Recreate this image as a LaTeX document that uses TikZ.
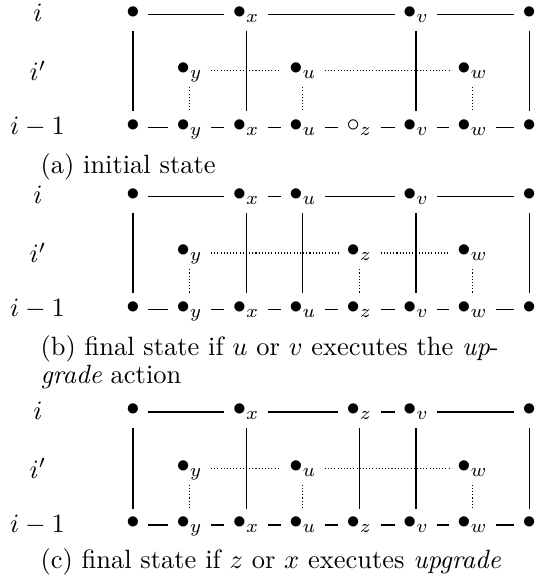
\documentclass[tikz,border=0pt]{standalone}
\begin{document}
\begin{tikzpicture}[x=0.378pt,y=-0.378pt,
  vtx/.style={inner xsep=3pt,inner ysep=0pt,text height=3pt,text depth=0pt},
  lab/.style={anchor=base,inner sep=0pt},
  captxt/.style={anchor=base west,inner sep=0pt},
  vl/.style={shorten <=4.45pt,shorten >=4.45pt},
  dt/.style={dash pattern=on 0.4pt off 0.8pt}]
\useasboundingbox (0,0) rectangle (536,583);
% ---------- panel (a) ----------
\node[lab] (aLi)  at (38,21.8)    {$i$};
\node[lab] (aLip) at (38,80.9)    {$i'$};
\node[lab] (aLim) at (37.5,134.5) {$i-1$};
\node[vtx] (aT0) at (133,14.3)   {$\bullet$};
\node[vtx] (aT2) at (246.2,14.3) {$\bullet_x$};
\node[vtx] (aT5) at (416,14.3)   {$\bullet_v$};
\node[vtx] (aT7) at (529.2,14.3) {$\bullet$};
\node[vtx] (aM1) at (189.6,70.9) {$\bullet_y$};
\node[vtx] (aM3) at (302.8,70.9) {$\bullet_u$};
\node[vtx] (aM6) at (472.6,70.9) {$\bullet_w$};
\node[vtx] (aB0) at (133,127.5)   {$\bullet$};
\node[vtx] (aB1) at (189.6,127.5) {$\bullet_y$};
\node[vtx] (aB2) at (246.2,127.5) {$\bullet_x$};
\node[vtx] (aB3) at (302.8,127.5) {$\bullet_u$};
\node[vtx] (aB4) at (359.4,127.5) {$\circ_z$};
\node[vtx] (aB5) at (416,127.5)   {$\bullet_v$};
\node[vtx] (aB6) at (472.6,127.5) {$\bullet_w$};
\node[vtx] (aB7) at (529.2,127.5) {$\bullet$};
\draw (aT0)--(aT2) (aT2)--(aT5) (aT5)--(aT7);
\draw (aB0)--(aB1) (aB1)--(aB2) (aB2)--(aB3) (aB3)--(aB4) (aB4)--(aB5) (aB5)--(aB6) (aB6)--(aB7);
\draw[vl] (aT0)--(aB0);
\draw[vl] (aT2)--(aB2);
\draw[vl] (aT5)--(aB5);
\draw[vl] (aT7)--(aB7);
\draw[dt] (aM1)--(aM3) (aM3)--(aM6);
\draw[dt,vl] (aM1)--(aB1);
\draw[dt,vl] (aM3)--(aB3);
\draw[dt,vl] (aM6)--(aB6);
\node[captxt] (capa) at (40,173.3) {(a) initial state};
% ---------- panel (b) ----------
\node[lab] (bLi)  at (38,204)     {$i$};
\node[lab] (bLip) at (38,263)     {$i'$};
\node[lab] (bLim) at (37.5,316.5) {$i-1$};
\node[vtx] (bT0) at (133,196.5)   {$\bullet$};
\node[vtx] (bT2) at (246.2,196.5) {$\bullet_x$};
\node[vtx] (bT3) at (302.8,196.5) {$\bullet_u$};
\node[vtx] (bT5) at (416,196.5)   {$\bullet_v$};
\node[vtx] (bT7) at (529.2,196.5) {$\bullet$};
\node[vtx] (bM1) at (189.6,253) {$\bullet_y$};
\node[vtx] (bM4) at (359.4,253) {$\bullet_z$};
\node[vtx] (bM6) at (472.6,253) {$\bullet_w$};
\node[vtx] (bB0) at (133,309.5)   {$\bullet$};
\node[vtx] (bB1) at (189.6,309.5) {$\bullet_y$};
\node[vtx] (bB2) at (246.2,309.5) {$\bullet_x$};
\node[vtx] (bB3) at (302.8,309.5) {$\bullet_u$};
\node[vtx] (bB4) at (359.4,309.5) {$\bullet_z$};
\node[vtx] (bB5) at (416,309.5)   {$\bullet_v$};
\node[vtx] (bB6) at (472.6,309.5) {$\bullet_w$};
\node[vtx] (bB7) at (529.2,309.5) {$\bullet$};
\draw (bT0)--(bT2) (bT2)--(bT3) (bT3)--(bT5) (bT5)--(bT7);
\draw (bB0)--(bB1) (bB1)--(bB2) (bB2)--(bB3) (bB3)--(bB4) (bB4)--(bB5) (bB5)--(bB6) (bB6)--(bB7);
\draw[vl] (bT0)--(bB0);
\draw[vl] (bT2)--(bB2);
\draw[vl] (bT3)--(bB3);
\draw[vl] (bT5)--(bB5);
\draw[vl] (bT7)--(bB7);
\draw[dt] (bM1)--(bM4) (bM4)--(bM6);
\draw[dt,vl] (bM1)--(bB1);
\draw[dt,vl] (bM4)--(bB4);
\draw[dt,vl] (bM6)--(bB6);
\node[captxt] (capb1) at (40,355.5) {(b) final state if $u$ or $v$ executes the \emph{up}-};
\node[captxt] (capb2) at (40,383.5) {\emph{grade} action};
% ---------- panel (c) ----------
\node[lab] (cLi)  at (38,419.5)   {$i$};
\node[lab] (cLip) at (38,478.5)   {$i'$};
\node[lab] (cLim) at (37.5,532)   {$i-1$};
\node[vtx] (cT0) at (133,412)   {$\bullet$};
\node[vtx] (cT2) at (246.2,412) {$\bullet_x$};
\node[vtx] (cT4) at (359.4,412) {$\bullet_z$};
\node[vtx] (cT5) at (416,412)   {$\bullet_v$};
\node[vtx] (cT7) at (529.2,412) {$\bullet$};
\node[vtx] (cM1) at (189.6,468.5) {$\bullet_y$};
\node[vtx] (cM3) at (302.8,468.5) {$\bullet_u$};
\node[vtx] (cM6) at (472.6,468.5) {$\bullet_w$};
\node[vtx] (cB0) at (133,525)   {$\bullet$};
\node[vtx] (cB1) at (189.6,525) {$\bullet_y$};
\node[vtx] (cB2) at (246.2,525) {$\bullet_x$};
\node[vtx] (cB3) at (302.8,525) {$\bullet_u$};
\node[vtx] (cB4) at (359.4,525) {$\bullet_z$};
\node[vtx] (cB5) at (416,525)   {$\bullet_v$};
\node[vtx] (cB6) at (472.6,525) {$\bullet_w$};
\node[vtx] (cB7) at (529.2,525) {$\bullet$};
\draw (cT0)--(cT2) (cT2)--(cT4) (cT4)--(cT5) (cT5)--(cT7);
\draw (cB0)--(cB1) (cB1)--(cB2) (cB2)--(cB3) (cB3)--(cB4) (cB4)--(cB5) (cB5)--(cB6) (cB6)--(cB7);
\draw[vl] (cT0)--(cB0);
\draw[vl] (cT2)--(cB2);
\draw[vl] (cT4)--(cB4);
\draw[vl] (cT5)--(cB5);
\draw[vl] (cT7)--(cB7);
\draw[dt] (cM1)--(cM3) (cM3)--(cM6);
\draw[dt,vl] (cM1)--(cB1);
\draw[dt,vl] (cM3)--(cB3);
\draw[dt,vl] (cM6)--(cB6);
\node[captxt] (capc) at (40,568) {(c) final state if $z$ or $x$ executes \emph{upgrade}};
\end{tikzpicture}
\end{document}
